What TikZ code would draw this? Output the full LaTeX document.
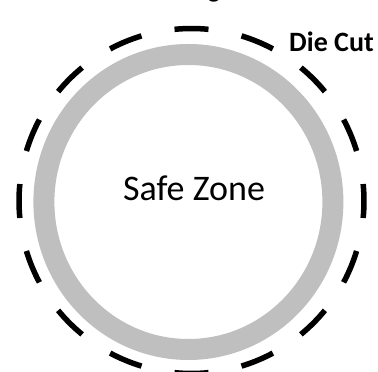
\documentclass[tikz,border=0pt]{standalone}
\usepackage{fontspec}
\setmainfont{Carlito}
\usetikzlibrary{calc}
\definecolor{ZoneGray}{HTML}{BFBFBF}

\begin{document}
\begin{tikzpicture}[x=1pt,y=1pt,line cap=butt,line join=round]
  \useasboundingbox (0,0) rectangle (378,372);
  \coordinate (O) at (191.5,171);\coordinate (S) at (188.4,170);
  \draw[ZoneGray,line width=21pt] (S) ellipse [x radius=144.5,y radius=147.5];
  \foreach \a in {0,22.5,...,337.5}{\draw[line width=5.5pt] ($(O)+(\a-5.65:172.5)$) arc[start angle=\a-5.65,end angle=\a+5.65,radius=172.5];}
  \node[anchor=base,inner sep=0pt,font=\fontsize{36}{43}\selectfont] (safe) at (194,171.3) {Safe Zone};
  \node[anchor=base,inner sep=0pt,font=\fontsize{28}{34}\selectfont\bfseries] (diecut) at (331.5,320) {Die Cut};
  \node[anchor=base,inner sep=0pt,font=\fontsize{27}{32}\selectfont] (top) at (214,374.5) {g};
\end{tikzpicture}
\end{document}
